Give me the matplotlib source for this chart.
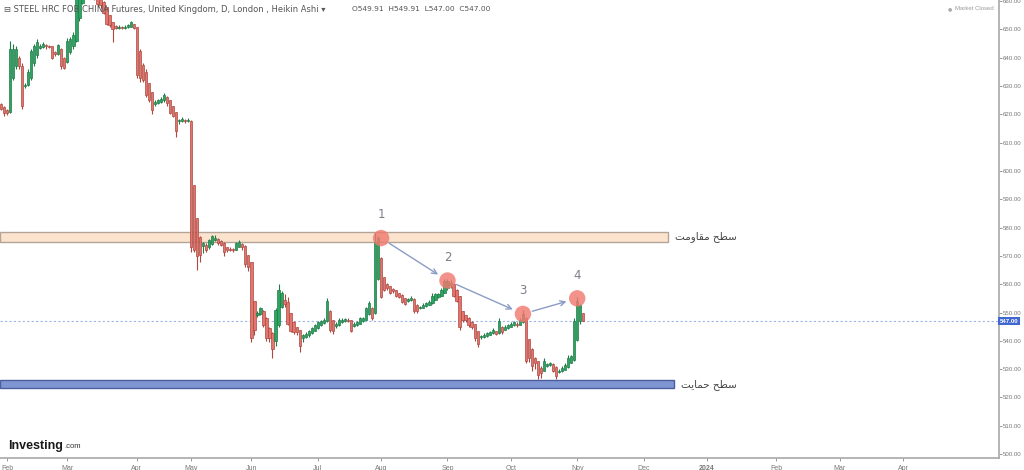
import matplotlib
matplotlib.use('Agg')
import matplotlib.pyplot as plt
import matplotlib.transforms as mtrans
from matplotlib.patches import Rectangle
import pandas as pd

# ---------------- data (Heikin Ashi daily candles) ----------------
start_date = '2023-01-30'
last_date = '2023-11-03'
axis_end = '2024-04-30'
uk_holidays = ['2023-04-07', '2023-04-10', '2023-05-01', '2023-05-08', '2023-05-29', '2023-08-28']

opens = [623.5, 622.5, 621.5, 621, 633, 637, 640, 637, 630, 630.5, 633, 638, 641, 643.5, 643.8, 644.3, 644, 644, 642, 641.5,
         643, 640, 638.5, 642, 644, 646, 654, 659.5, 664, 666.5, 665.8, 664.6, 663, 661, 659.8, 658, 655, 652.5, 651.2, 650.5,
         650.8, 650.6, 650.8, 651, 651.8, 651, 642.5, 637.5, 635, 631, 628, 623.5, 624, 624.5, 625, 626, 625, 622.8, 621, 617.5,
         617.7, 618, 617.7, 617.8, 595, 583.5, 576.8, 573.6, 574, 573, 574.2, 575.6, 576, 575.3, 574.6, 573, 572.5, 572.3, 572.2, 573.3,
         574.2, 573.6, 570.3, 568, 554, 549, 549.5, 550.5, 548, 544.5, 542.8, 540, 545.5, 551.8, 554.4, 553.7, 549.8, 546.7, 544.8, 544,
         541, 541.5, 542, 542.8, 543.6, 544.5, 545.5, 546.2, 547, 550.5, 547.2, 545.3, 545.6, 546.5, 547, 547.3, 547.2, 545.3, 545.6, 546,
         547, 547.5, 549.5, 551.5, 549.8, 562, 569.3, 562.4, 560.2, 559.3, 558.2, 557.8, 556.9, 556.2, 555, 554, 554.4, 554.8, 552.7, 551.6,
         551.7, 552.3, 552.8, 553.3, 554.6, 555.5, 556, 557, 558.5, 559.8, 560.1, 558, 556, 550.5, 549, 548.2, 546.8, 545.9, 543.5, 541.2,
         541.4, 541.8, 542.2, 542.6, 543.3, 542.9, 545, 544, 544.5, 545, 545.5, 546, 545.7, 546.6, 548, 540.5, 537.2, 534, 533, 530.5,
         529.5, 531.2, 531.5, 531.8, 530.6, 529, 529.2, 529.8, 530.6, 532.3, 533.4, 540.2, 547.1, 549.91]
highs = [624, 622.8, 622, 646, 645, 644, 640.5, 638, 631, 636, 643, 645, 646.5, 645, 645.5, 644.8, 644.5, 644.2, 642.5, 645,
         643.5, 640.2, 647, 647.5, 649, 665, 668, 671, 672, 668, 666, 665, 663, 661, 660, 658, 655, 652.5, 651.5, 651.5,
         651.2, 651.5, 652, 653, 652, 651, 643, 638, 636, 631, 628, 625, 625.5, 626, 627.5, 626.5, 625, 623, 621, 618.5,
         619, 618.5, 618.8, 618, 595, 583.5, 577, 575, 574.5, 576, 577.5, 577.5, 576.5, 575.5, 574.8, 573.2, 573, 572.8, 575, 575.5,
         574.5, 574, 570.5, 568, 554, 550.5, 552, 551, 548.5, 545, 543, 551.5, 560, 557.5, 556.5, 555.5, 550, 547, 545, 544,
         542.5, 543, 544, 545, 546, 547, 547.5, 548, 555, 551, 547.5, 546.5, 548, 548, 548.2, 548, 547.5, 546.5, 547, 548.5,
         548.5, 552, 554, 552, 578, 577, 569.5, 562.5, 560.5, 559.5, 558.5, 558, 557, 556.5, 555.2, 555.2, 555.8, 555, 553, 552.2,
         553.2, 553.7, 554.3, 556.8, 556.8, 557, 558.5, 561.7, 561.8, 561.5, 560.5, 558.3, 556, 550.5, 549.2, 548.3, 547, 546, 543.5, 542,
         542.6, 543, 543.4, 544.4, 543.6, 548, 545.3, 545.5, 546, 546.5, 547, 546.5, 548, 551, 548.5, 540.5, 537.5, 534.2, 533, 531,
         534, 532.3, 532.5, 532, 531, 530, 531, 532, 535, 535, 548, 555.5, 553, 549.91]
lows = [621.5, 619.5, 619.8, 620.5, 632, 636, 636, 622, 629.5, 630, 632, 637, 640, 643, 643.5, 643.2, 643.5, 639.5, 640.8, 641,
        636, 636, 638, 641.5, 643, 645.5, 653, 659, 663.5, 663, 662, 660.5, 658, 657.5, 655.5, 651.5, 651, 645.5, 650, 650,
        650.2, 650.3, 650.5, 650.8, 650, 633, 631.5, 631.5, 626, 624.5, 620, 623, 623.5, 624.2, 624.5, 623, 620, 619, 612, 616.5,
        617.2, 617, 617.3, 571.5, 571.5, 565, 568, 571, 571.5, 572.5, 574, 575.2, 574, 573.5, 570, 571.5, 571.8, 571.5, 572, 573,
        572, 566, 564.5, 539.5, 542, 548.5, 549, 545, 540, 539.5, 534, 538, 545, 551.5, 552, 545.5, 543, 542.5, 542, 536,
        539.5, 541, 541.5, 542.5, 543.3, 544.2, 545.3, 546, 546.5, 543, 542.5, 544.5, 545.3, 546.2, 546.8, 546.8, 543, 545, 545.3, 545.8,
        546.8, 547.2, 549, 547.5, 549.5, 561.5, 555, 557.5, 558, 556.5, 557, 555.5, 555, 553.5, 552.5, 553.8, 554.2, 550, 550, 551.2,
        551.5, 552, 552.5, 553, 554.3, 555.2, 555.7, 556.8, 558, 558.5, 555.5, 553.7, 543.8, 546.6, 546.8, 545, 544.2, 540, 537.8, 540.8,
        541.1, 541.5, 541.9, 542.3, 542, 542.5, 542.5, 543.8, 544.2, 544.8, 545.3, 545, 545.5, 546.3, 532, 532.5, 529.5, 530, 526.5, 527,
        529.2, 530.9, 531.2, 529, 526.5, 528.7, 529, 529.6, 530.4, 532, 533, 540, 546, 547.0]
closes = [622, 620.5, 620.5, 643, 643, 643, 637, 623, 630.5, 635, 642.5, 644, 645.5, 644, 644.8, 644, 643.8, 640, 641.5, 644.5,
          637, 636.5, 646, 646.5, 648, 662, 665, 668, 669, 665, 663.5, 661.5, 659, 658.5, 656, 652, 651.5, 650, 650.5, 651,
          650.5, 651, 651.5, 652.5, 650.5, 634, 633, 632, 627, 625, 621.5, 624.5, 625, 625.5, 627, 624, 620.5, 619.5, 614, 618,
          618.5, 617.5, 618, 573, 572, 570, 570.5, 574.5, 572, 575.5, 577, 576.5, 574.5, 574, 571.5, 572, 572.2, 572, 574.5, 575,
          573, 567, 566, 541, 544, 550, 551.5, 545.5, 541, 541, 537, 551, 558, 557, 553, 546, 543.5, 543, 543, 538,
          542, 542.5, 543.5, 544.5, 545.5, 546.5, 547, 547.5, 554, 544, 543.5, 546, 547.5, 547.5, 547.6, 547, 543.5, 546, 546.5, 548,
          548, 551.5, 553.5, 548, 575, 576.5, 555.5, 558, 558.5, 557, 557.5, 556, 555.5, 553.8, 553, 554.8, 555.3, 550.5, 550.5, 551.8,
          552.8, 553.3, 553.8, 556, 556.4, 556.6, 558, 561, 561, 560.5, 556, 554, 545, 547.5, 547.3, 545.5, 545, 541, 539, 541.6,
          542.2, 542.6, 543, 544, 542.5, 547, 543, 545, 545.5, 546, 546.5, 545.5, 547.5, 549.5, 533, 534, 531, 532, 528, 528.5,
          533, 531.8, 532, 529.5, 527.5, 529.5, 530.5, 531.5, 534, 534.5, 547, 554, 552.7, 547.0]

tick_labels = ['Feb', 'Mar', 'Apr', 'May', 'Jun', 'Jul', 'Aug', 'Sep', 'Oct', 'Nov', 'Dec', '2024', 'Feb', 'Mar', 'Apr']
price_ticks = list(range(500, 661, 10))

resistance_zone = [574.8, 578.6]
support_zone = [523.2, 526.2]
resistance_end = '2023-12-13'
support_end = '2023-12-15'

pivot_dates = ['2023-08-01', '2023-09-01', '2023-10-06', '2023-11-01']
pivot_prices = [576.3, 561.3, 549.5, 555.0]
pivot_labels = ['1', '2', '3', '4']

# Persian labels (pre-shaped Arabic-script presentation forms, visual order)
resistance_label = '\uFE96\uFEE3\uFEED\uFE8E\uFED8\uFEE3 \uFEA2\uFEC4\uFEB3'   # سطح مقاومت
support_label = '\uFE96\uFEF3\uFE8E\uFEE4\uFEA3 \uFEA2\uFEC4\uFEB3'            # سطح حمایت

title = 'STEEL HRC FOB CHINA Futures, United Kingdom, D, London , Heikin Ashi'
ohlc_text = 'O549.91  H549.91  L547.00  C547.00'

# ---------------- calendar / x positions ----------------
hol = set(pd.to_datetime(uk_holidays))
trade_days = [d for d in pd.bdate_range(start_date, last_date) if d not in hol]
future_days = list(pd.bdate_range(pd.Timestamp(last_date) + pd.Timedelta(days=1), axis_end))
axis_days = trade_days + future_days
pos = {d: i for i, d in enumerate(axis_days)}
n = len(opens)
xs = list(range(n))

tick_pos = []
seen = set()
for i, d in enumerate(axis_days):
    key = (d.year, d.month)
    if key not in seen:
        seen.add(key)
        if not (d.year == 2023 and d.month == 1):
            tick_pos.append(i)
tick_pos = tick_pos[:len(tick_labels)]

# ---------------- figure ----------------
plt.rcParams['font.family'] = ['Liberation Sans', 'DejaVu Sans']
fig = plt.figure(figsize=(10.24, 4.70), dpi=100)
ax = fig.add_axes([0.0, 12 / 470, 999 / 1024, 458 / 470])

x_left = -0.32
ax.set_xlim(x_left, 330.8)
ax.set_ylim(498.6, 660.42)

GREEN, GREEN_E = '#2ea462', '#1f7b48'
RED, RED_E = '#e2766e', '#ad4840'

# zones
r_end = pos[pd.Timestamp(resistance_end)]
s_end = pos[pd.Timestamp(support_end)]
ax.add_patch(Rectangle((x_left, resistance_zone[0]), r_end - x_left, resistance_zone[1] - resistance_zone[0],
                       facecolor='#fce3cd', edgecolor='#b3a497', linewidth=1.0, zorder=1))
ax.add_patch(Rectangle((x_left, support_zone[0]), s_end - x_left, support_zone[1] - support_zone[0],
                       facecolor='#7f96d2', edgecolor='#4b5e9e', linewidth=1.0, zorder=1))

# last price line
ax.axhline(closes[-1], color='#9fb4e6', linewidth=0.8, linestyle=(0, (2, 2)), zorder=1.5)

# candles
for x, o, h, l, c in zip(xs, opens, highs, lows, closes):
    up = c >= o
    fc, ec = (GREEN, GREEN_E) if up else (RED, RED_E)
    ax.vlines(x, l, h, color=ec, linewidth=0.8, zorder=2)
    body = max(abs(c - o), 0.35)
    ax.bar(x, body, bottom=min(o, c), width=0.75, color=fc, edgecolor=ec, linewidth=0.5, zorder=3)

# pivots
px = [pos[pd.Timestamp(d)] for d in pivot_dates]
ax.scatter(px, pivot_prices, s=140, color='#f07a70', alpha=0.82, edgecolors='none', zorder=4)
for x, y, lab in zip(px, pivot_prices, pivot_labels):
    ax.annotate(lab, (x, y), xytext=(0, 12), textcoords='offset points', ha='center', va='bottom',
                fontsize=8.5, color='#7a7f88', family=['DejaVu Sans'])
for i in range(len(px) - 1):
    ax.annotate('', xy=(px[i + 1], pivot_prices[i + 1]), xytext=(px[i], pivot_prices[i]),
                arrowprops=dict(arrowstyle='->', color='#8b9cc6', lw=1.0, shrinkA=7, shrinkB=8,
                                mutation_scale=9), zorder=5)

# zone labels
ax.text(r_end + 2.5, sum(resistance_zone) / 2, resistance_label, fontsize=7.5, color='#444444',
        ha='left', va='center', family=['DejaVu Sans'])
ax.text(s_end + 2.5, sum(support_zone) / 2 - 0.3, support_label, fontsize=7.5, color='#444444',
        ha='left', va='center', family=['DejaVu Sans'])

# axes styling
for s in ['left', 'top']:
    ax.spines[s].set_visible(False)
ax.spines['right'].set_color('#a8a8a8')
ax.spines['bottom'].set_color('#a8a8a8')
ax.spines['right'].set_linewidth(1.2)
ax.spines['bottom'].set_linewidth(1.2)
ax.yaxis.tick_right()
ax.set_yticks(price_ticks)
ax.set_yticklabels([f'{p:.2f}' for p in price_ticks])
ax.tick_params(axis='y', length=2.0, width=0.6, colors='#888888', labelsize=4.4, pad=1.0, labelcolor='#777777')
ax.set_xticks(tick_pos)
ax.set_xticklabels(tick_labels)
ax.tick_params(axis='x', length=2.5, width=0.6, colors='#888888', labelsize=5, pad=2.5, labelcolor='#777777')
for t in ax.get_xticklabels():
    if t.get_text() == '2024':
        t.set_fontweight('bold')

# last price tag
trans = mtrans.blended_transform_factory(ax.transAxes, ax.transData)
ax.text(1.001, closes[-1], f'{closes[-1]:.2f}', transform=trans, fontsize=4.4, color='white', weight='bold',
        ha='left', va='center', bbox=dict(boxstyle='square,pad=0.25', facecolor='#3f67cf', edgecolor='none'),
        zorder=6, clip_on=False)

# header texts
fig.text(4 / 1024, 1 - 9 / 470, '\u229F ' + title + ' \u25BE', fontsize=6.0, color='#555555',
         ha='left', va='center', family=['DejaVu Sans'])
fig.text(352 / 1024, 1 - 9 / 470, ohlc_text, fontsize=5.4, color='#555555',
         ha='left', va='center', family=['DejaVu Sans'])
fig.text(955 / 1024, 1 - 9 / 470, 'Market Closed', fontsize=4.3, color='#999999', ha='left', va='center')
fig.text(948 / 1024, 1 - 9 / 470, '\u25CF', fontsize=3.5, color='#aaaaaa', ha='left', va='center',
         family=['DejaVu Sans'])

# Investing.com logo
fig.text(8 / 1024, 1 - 446 / 470, 'Investing', fontsize=9, weight='bold', color='#1a1a1a', ha='left', va='center')
fig.text(64 / 1024, 1 - 447 / 470, '.com', fontsize=5.5, color='#333333', ha='left', va='center')

fig.savefig('out.png', dpi=100)
